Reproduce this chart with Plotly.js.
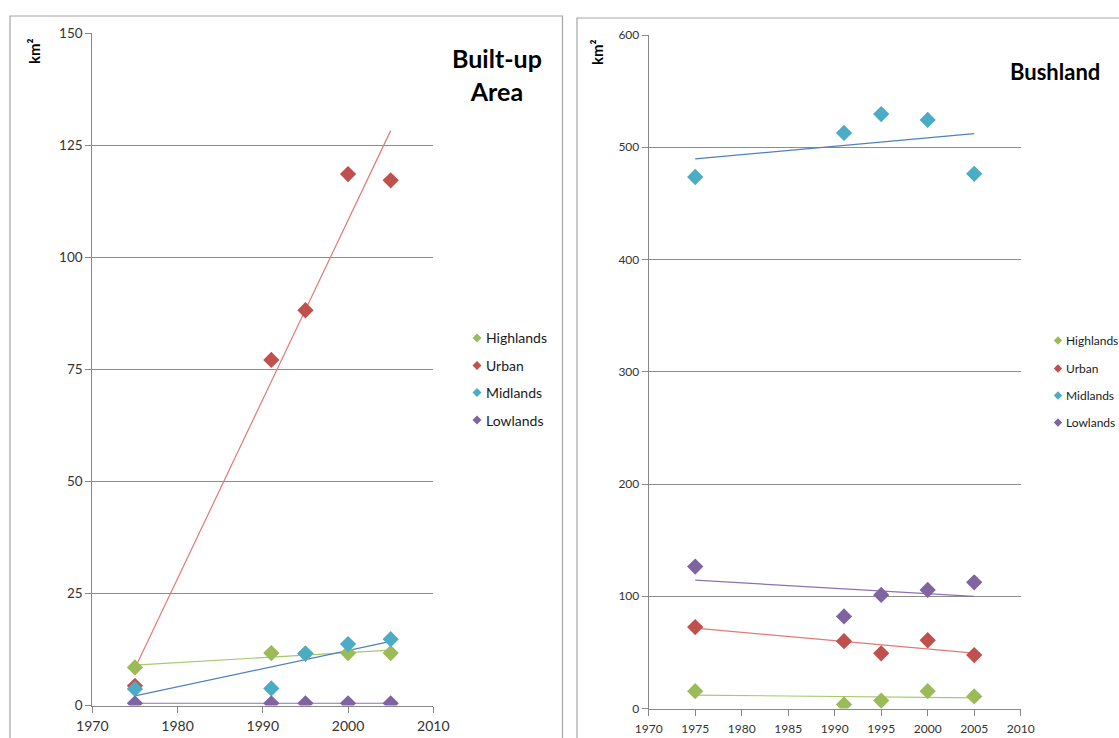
<!DOCTYPE html>
<html>
<head>
<meta charset="utf-8">
<script src="https://cdn.plot.ly/plotly-3.0.1.min.js"></script>
<style>
html,body{margin:0;padding:0;background:#fff;}
#chart{width:1119px;height:738px;}
</style>
</head>
<body>
<div id="chart"></div>
<script>
// ---- data ----
const seriesNames = ["Highlands", "Urban", "Midlands", "Lowlands"];
const seriesColors = ["#9BBB59", "#C0504D", "#4BACC6", "#8064A2"];
const trendColors = ["#A6C96A", "#E07A78", "#4F81BD", "#8C72B0"];

const builtYears = [1975, 1991, 1995, 2000, 2005];
const builtHighlands = [8.5, 11.7, 11.6, 11.7, 11.7];
const builtUrban = [4.4, 77.1, 88.2, 118.6, 117.2];
const builtMidlands = [3.7, 3.8, 11.6, 13.7, 14.8];
const builtLowlands = [0.5, 0.5, 0.5, 0.5, 0.5];

const bushYears = [1975, 1991, 1995, 2000, 2005];
const bushHighlands = [15.4, 3.6, 7.1, 15.4, 10.8];
const bushUrban = [72.6, 60.0, 49.2, 60.8, 47.6];
const bushMidlands = [473.5, 512.7, 529.6, 524.3, 476.3];
const bushLowlands = [126.4, 82.0, 101.2, 105.6, 112.4];

const builtTicks = [1970, 1980, 1990, 2000, 2010];
const bushTicks = [1970, 1975, 1980, 1985, 1990, 1995, 2000, 2005, 2010];

// ---- helpers ----
function fit(xs, ys) {
  const n = xs.length;
  const mx = xs.reduce((a, b) => a + b, 0) / n;
  const my = ys.reduce((a, b) => a + b, 0) / n;
  let sxy = 0, sxx = 0;
  for (let i = 0; i < n; i++) { sxy += (xs[i] - mx) * (ys[i] - my); sxx += (xs[i] - mx) ** 2; }
  const b = sxy / sxx, a = my - b * mx;
  const x0 = Math.min(...xs), x1 = Math.max(...xs);
  return { x: [x0, x1], y: [a + b * x0, a + b * x1] };
}

const W = 1119, H = 738;
const px = v => v / W;
const py = v => 1 - v / H;
const FONT = "Lato, 'Open Sans', sans-serif";

const traces = [];
function addPanel(years, sets, xa, ya) {
  sets.forEach((ys, i) => {
    const t = fit(years, ys);
    traces.push({
      x: t.x, y: t.y, xaxis: xa, yaxis: ya, type: "scatter", mode: "lines",
      line: { color: trendColors[i], width: 1.2 }, showlegend: false, hoverinfo: "skip"
    });
  });
  sets.forEach((ys, i) => {
    traces.push({
      x: years, y: ys, xaxis: xa, yaxis: ya, type: "scatter", mode: "markers",
      name: seriesNames[i], showlegend: false,
      marker: { symbol: "diamond", size: 12.5, color: seriesColors[i] }
    });
  });
}
addPanel(builtYears, [builtHighlands, builtUrban, builtMidlands, builtLowlands], "x", "y");
addPanel(bushYears, [bushHighlands, bushUrban, bushMidlands, bushLowlands], "x2", "y2");

// ---- custom legends (diamond + label) ----
const shapes = [
  { type: "rect", xref: "paper", yref: "paper", x0: px(10), x1: px(562.5), y0: py(760), y1: py(16),
    line: { color: "#A6A6A6", width: 1.2 }, fillcolor: "rgba(0,0,0,0)", layer: "below" },
  { type: "rect", xref: "paper", yref: "paper", x0: px(577), x1: px(1140), y0: py(760), y1: py(18),
    line: { color: "#A6A6A6", width: 1.2 }, fillcolor: "rgba(0,0,0,0)", layer: "below" }
];
const annotations = [];
function addLegend(cx, rows, textX, fontSize, half) {
  seriesNames.forEach((name, i) => {
    const cy = rows[i];
    const path = "M " + px(cx - half) + " " + py(cy) +
                 " L " + px(cx) + " " + py(cy - half) +
                 " L " + px(cx + half) + " " + py(cy) +
                 " L " + px(cx) + " " + py(cy + half) + " Z";
    shapes.push({ type: "path", xref: "paper", yref: "paper", path: path,
      fillcolor: seriesColors[i], line: { width: 0 } });
    annotations.push({ text: name, xref: "paper", yref: "paper", x: px(textX), y: py(cy),
      xanchor: "left", yanchor: "middle", showarrow: false,
      font: { family: FONT, size: fontSize, color: "#1a1a1a" } });
  });
}
addLegend(477, [338, 365.5, 392.5, 420], 484, 14, 4.5);
addLegend(1058, [340.5, 368.5, 395.5, 422.5], 1063.5, 12, 4.2);

annotations.push(
  { text: "<b>Built-up<br>Area</b>", xref: "paper", yref: "paper", x: px(497), y: py(74),
    xanchor: "center", yanchor: "middle", showarrow: false, align: "center",
    font: { family: FONT, size: 25, color: "#000000" } },
  { text: "<b>Bushland</b>", xref: "paper", yref: "paper", x: px(1055), y: py(72),
    xanchor: "center", yanchor: "middle", showarrow: false,
    font: { family: FONT, size: 22, color: "#000000" } },
  { text: "<b>km²</b>", xref: "paper", yref: "paper", x: px(34), y: py(51),
    xanchor: "center", yanchor: "middle", showarrow: false, textangle: -90,
    font: { family: FONT, size: 15, color: "#000000" } },
  { text: "<b>km²</b>", xref: "paper", yref: "paper", x: px(597), y: py(52),
    xanchor: "center", yanchor: "middle", showarrow: false, textangle: -90,
    font: { family: FONT, size: 15, color: "#000000" } }
);

const axisCommon = {
  showline: true, linecolor: "#888888", linewidth: 1,
  ticks: "outside", ticklen: 6, tickcolor: "#888888",
  zeroline: false, fixedrange: true,
  tickfont: { family: FONT, size: 13.5, color: "#333333" }
};

const layout = {
  width: W, height: H,
  margin: { l: 0, r: 0, t: 0, b: 0 },
  paper_bgcolor: "#ffffff", plot_bgcolor: "#ffffff",
  showlegend: false,
  xaxis: Object.assign({}, axisCommon, {
    domain: [px(92.3), px(433.3)], range: [1970, 2010], tickvals: builtTicks,
    showgrid: false, anchor: "y", ticklabelstandoff: 2,
    tickfont: { family: FONT, size: 14, color: "#333333" }
  }),
  yaxis: Object.assign({}, axisCommon, {
    domain: [py(705.5), py(33.3)], range: [0, 150], dtick: 25,
    showgrid: true, gridcolor: "#8C8C8C", gridwidth: 1, anchor: "x"
  }),
  xaxis2: Object.assign({}, axisCommon, {
    domain: [px(648.7), px(1020.7)], range: [1970, 2010], tickvals: bushTicks,
    showgrid: false, anchor: "y2", ticklabelstandoff: 3,
    tickfont: { family: FONT, size: 12, color: "#333333" }
  }),
  yaxis2: Object.assign({}, axisCommon, {
    domain: [py(708.5), py(35)], range: [0, 600], dtick: 100,
    showgrid: true, gridcolor: "#8C8C8C", gridwidth: 1, anchor: "x2",
    tickfont: { family: FONT, size: 12, color: "#333333" }
  }),
  shapes: shapes,
  annotations: annotations
};

Plotly.newPlot("chart", traces, layout, { staticPlot: true, displayModeBar: false });
</script>
</body>
</html>
